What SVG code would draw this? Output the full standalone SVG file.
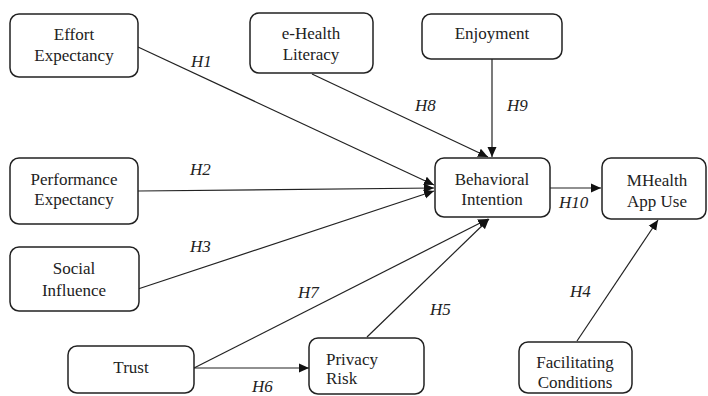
<svg xmlns="http://www.w3.org/2000/svg" width="708" height="396" viewBox="0 0 708 396">
<defs>
<marker id="arr" viewBox="0 0 10 10" refX="10" refY="5" markerWidth="10" markerHeight="10" markerUnits="userSpaceOnUse" orient="auto">
<path d="M0,0.5 L10,5 L0,9.5 z" fill="#111"/>
</marker>
<style>
.box{fill:#fff;stroke:#222;stroke-width:1.5}
text{font-family:'Liberation Serif','DejaVu Serif',serif;font-size:17px;fill:#222}
.t{text-anchor:middle}
.h{font-style:italic}
.c{stroke:#222;stroke-width:1.2;fill:none;marker-end:url(#arr)}
</style>
</defs>
<rect width="708" height="396" fill="#fff"/>
<g id="connectors">
<line class="c" x1="138" y1="47" x2="434" y2="185"/>
<line class="c" x1="138" y1="191" x2="434" y2="188"/>
<line class="c" x1="138" y1="289" x2="434" y2="191"/>
<line class="c" x1="312" y1="74" x2="488" y2="157"/>
<line class="c" x1="492" y1="59" x2="492" y2="157"/>
<line class="c" x1="194" y1="368" x2="488" y2="219"/>
<line class="c" x1="367" y1="337" x2="489" y2="219"/>
<line class="c" x1="194" y1="368" x2="309" y2="368"/>
<line class="c" x1="550" y1="188" x2="601" y2="188"/>
<line class="c" x1="577" y1="341" x2="658" y2="220"/>
<text class="h" x="191" y="67">H1</text>
<text class="h" x="190" y="175">H2</text>
<text class="h" x="190" y="252">H3</text>
<text class="h" x="570" y="297">H4</text>
<text class="h" x="430" y="315">H5</text>
<text class="h" x="252" y="392">H6</text>
<text class="h" x="298" y="298">H7</text>
<text class="h" x="415" y="111">H8</text>
<text class="h" x="507" y="111">H9</text>
<text class="h" x="559" y="208">H10</text>
</g>
<g id="effort">
<rect class="box" x="10" y="14" width="128" height="63" rx="9"/>
<text class="t" x="74" y="40">Effort</text>
<text class="t" x="74" y="61">Expectancy</text>
</g>
<g id="ehealth">
<rect class="box" x="250" y="13" width="123" height="60" rx="9"/>
<text class="t" x="311" y="39">e-Health</text>
<text class="t" x="311" y="60">Literacy</text>
</g>
<g id="enjoyment">
<rect class="box" x="422" y="14" width="140" height="45" rx="9"/>
<text class="t" x="492" y="39">Enjoyment</text>
</g>
<g id="performance">
<rect class="box" x="10" y="158" width="128" height="66" rx="9"/>
<text class="t" x="74" y="185">Performance</text>
<text class="t" x="74" y="205">Expectancy</text>
</g>
<g id="social">
<rect class="box" x="10" y="247" width="129" height="64" rx="9"/>
<text class="t" x="74" y="274">Social</text>
<text class="t" x="74" y="296">Influence</text>
</g>
<g id="trust">
<rect class="box" x="68" y="346" width="126" height="47" rx="9"/>
<text class="t" x="131" y="373">Trust</text>
</g>
<g id="privacy">
<rect class="box" x="309" y="338" width="115" height="56" rx="9"/>
<text x="326" y="365">Privacy</text>
<text x="326" y="384">Risk</text>
</g>
<g id="facilitating">
<rect class="box" x="519" y="342" width="113" height="51" rx="9"/>
<text class="t" x="575" y="368">Facilitating</text>
<text class="t" x="575" y="388">Conditions</text>
</g>
<g id="behavioral">
<rect class="box" x="435" y="158" width="115" height="59" rx="9"/>
<text class="t" x="492" y="185">Behavioral</text>
<text class="t" x="492" y="205">Intention</text>
</g>
<g id="mhealth">
<rect class="box" x="602" y="158" width="104" height="61" rx="9"/>
<text class="t" x="657" y="186">MHealth</text>
<text class="t" x="657" y="207">App Use</text>
</g>
</svg>
